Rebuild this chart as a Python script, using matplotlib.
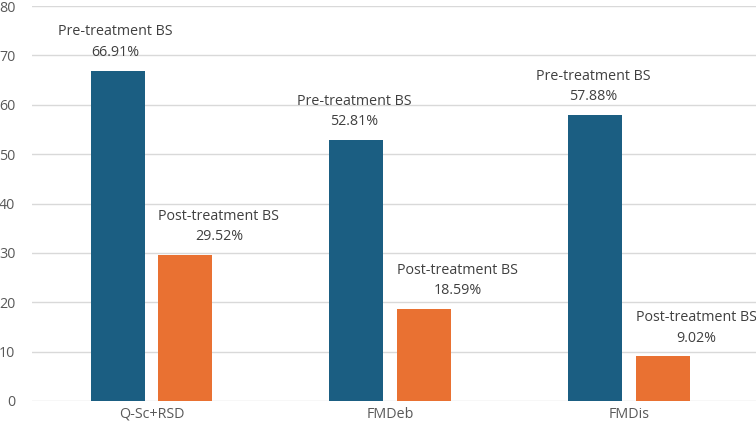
import matplotlib
matplotlib.use("Agg")
from matplotlib import pyplot as plt
import numpy as np

categories = ["Q-Sc+RSD", "FMDeb", "FMDis"]
pre_values = [66.91, 52.81, 57.88]
post_values = [29.52, 18.59, 9.02]
pre_label = "Pre-treatment BS"
post_label = "Post-treatment BS"

plt.rcParams['font.family'] = ['Open Sans', 'DejaVu Sans']

fig = plt.figure(figsize=(7.56, 4.28), dpi=100)
ax = fig.add_axes([32 / 756, 27 / 428, 724 / 756, 395 / 428])

x = np.arange(len(categories))
w = 0.226
off = 0.142
blue = "#1b5e82"
orange = "#e97132"

ax.bar(x - off, pre_values, w, color=blue, zorder=3)
ax.bar(x + off, post_values, w, color=orange, zorder=3)

# labels: pre centred on bar, post shifted right like the original
for i in range(len(categories)):
    ax.text(x[i] - off - 0.008, pre_values[i] + 2.2, f"{pre_label}\n{pre_values[i]:.2f}%",
            ha="center", va="bottom", fontsize=10.3, color="#404040", linespacing=1.5)
    ax.text(x[i] + off + 0.14, post_values[i] + 2.2, f"{post_label}\n{post_values[i]:.2f}%",
            ha="center", va="bottom", fontsize=10.3, color="#404040", linespacing=1.5)

ax.set_ylim(0, 80)
ax.set_xlim(-0.5, 2.53)
ax.set_yticks(range(0, 81, 10))
ax.set_xticks(x)
ax.set_xticklabels(categories)
ax.yaxis.grid(True, color="#d9d9d9", linewidth=1, zorder=0)
for s in ax.spines.values():
    s.set_visible(False)
ax.tick_params(axis="both", length=0, labelsize=10.3, colors="#595959")
ax.tick_params(axis="x", pad=4)
ax.tick_params(axis="y", pad=12)

fig.savefig("out.png", dpi=100)
